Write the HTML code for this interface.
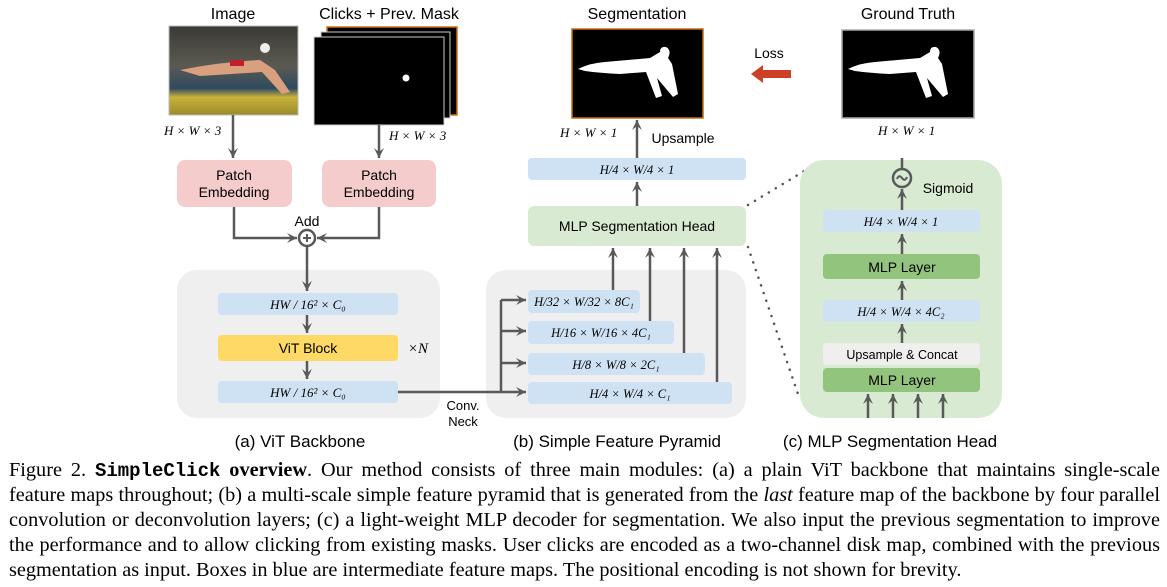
<!DOCTYPE html>
<html><head><meta charset="utf-8"><style>
body{margin:0;background:#fff;width:1167px;height:587px;overflow:hidden;position:relative}
svg{position:absolute;left:0;top:0}
.cap{position:absolute;left:9px;width:1151px;font-family:"Liberation Serif",serif;font-size:20.3px;line-height:20px;white-space:nowrap;text-align:justify;text-align-last:justify;color:#000}
.cap.last{text-align-last:left}
.mono{font-family:"Liberation Mono",monospace;font-weight:bold;font-size:19px}
</style></head><body>
<svg width="1167" height="460" viewBox="0 0 1167 460" font-family="Liberation Sans, sans-serif">
<defs>
<marker id="a" markerWidth="12" markerHeight="12" refX="10" refY="6" orient="auto" markerUnits="userSpaceOnUse">
<path d="M0,1 L10,6 L0,11 L4,6 Z" fill="#595959"/>
</marker>
<linearGradient id="sw" x1="0" y1="0" x2="0" y2="1">
<stop offset="0" stop-color="#3a3a34"/><stop offset="0.45" stop-color="#5b5a52"/><stop offset="0.7" stop-color="#2f4a60"/><stop offset="0.8" stop-color="#c9b23c"/><stop offset="1" stop-color="#9a8a2a"/>
</linearGradient>
</defs>
<g font-size="16" text-anchor="middle" fill="#000">
<text x="233" y="19">Image</text>
<text x="389" y="19">Clicks + Prev. Mask</text>
<text x="637" y="19">Segmentation</text>
<text x="908" y="19">Ground Truth</text>
</g>
<rect x="169" y="26" width="129" height="89" fill="url(#sw)" stroke="#bbb"/>
<path d="M180,70 Q220,62 260,60 L275,70 L290,92 L282,94 L262,72 L200,76 Z" fill="#d9a07f"/>
<rect x="230" y="60" width="14" height="6" fill="#c0202a"/>
<circle cx="265" cy="48" r="5" fill="#eee"/>
<rect x="327" y="27" width="130" height="88" fill="#000" stroke="#d07010" stroke-width="1.5"/>
<rect x="321" y="32" width="129" height="86" fill="#000" stroke="#ccc" stroke-width="1"/>
<rect x="314" y="37" width="130" height="88" fill="#000" stroke="#ccc" stroke-width="1"/>
<circle cx="406" cy="78" r="3.5" fill="#fff"/>
<g font-family="Liberation Serif, serif" font-style="italic" font-size="13" fill="#000">
<text x="164" y="135">H × W × 3</text>
<text x="389" y="140">H × W × 3</text>
<text x="560" y="137">H × W × 1</text>
<text x="878" y="135">H × W × 1</text>
</g>
<rect x="572" y="29" width="131" height="89" fill="#000" stroke="#c86a10" stroke-width="1.5"/>
<path id="sil" d="M578,69 Q590,63 605,62 L650,58 L660,52 Q660,46 666,47 Q672,50 668,58 L672,64 L678,94 L673,97 L657,78 L662,96 L656,98 L646,72 L620,74 Q600,73 585,71 Z" fill="#fff"/>
<rect x="842" y="30" width="132" height="88" fill="#000" stroke="#aaa" stroke-width="1.5"/>
<use href="#sil" transform="translate(270,0)"/>
<text x="769" y="58" font-size="14" text-anchor="middle">Loss</text>
<path d="M791,70 L763,70 L763,65 L751,74 L763,83 L763,78 L791,78 Z" fill="#cc4125"/>
<rect x="177" y="160" width="115" height="47" rx="8" fill="#f4cccc"/>
<rect x="322" y="160" width="114" height="47" rx="8" fill="#f4cccc"/>
<g font-size="14" text-anchor="middle">
<text x="234" y="180">Patch</text><text x="234" y="197">Embedding</text>
<text x="379" y="180">Patch</text><text x="379" y="197">Embedding</text>
<text x="307" y="226">Add</text>
</g>
<g stroke="#595959" stroke-width="2.5" fill="none">
<line x1="233" y1="115" x2="233" y2="158" marker-end="url(#a)"/>
<line x1="379" y1="125" x2="379" y2="158" marker-end="url(#a)"/>
<polyline points="234,207 234,238 297,238" marker-end="url(#a)"/>
<polyline points="379,207 379,238 317,238" marker-end="url(#a)"/>
<circle cx="307" cy="238" r="8"/>
<line x1="303" y1="238" x2="311" y2="238" stroke-width="2"/><line x1="307" y1="234" x2="307" y2="242" stroke-width="2"/>
</g>
<rect x="177" y="270" width="263" height="148" rx="20" fill="#efefef"/>
<rect x="218" y="293" width="180" height="22" rx="4" fill="#cfe2f3"/>
<rect x="218" y="335" width="180" height="26" rx="4" fill="#ffd966"/>
<rect x="218" y="381" width="180" height="22" rx="4" fill="#cfe2f3"/>
<g stroke="#595959" stroke-width="2.5" fill="none">
<line x1="307" y1="246" x2="307" y2="291" marker-end="url(#a)"/>
<line x1="307" y1="315" x2="307" y2="333" marker-end="url(#a)"/>
<line x1="307" y1="361" x2="307" y2="379" marker-end="url(#a)"/>
</g>
<g font-family="Liberation Serif, serif" font-style="italic" font-size="13" text-anchor="middle">
<text x="308" y="309">HW / 16² × C₀</text>
<text x="308" y="397">HW / 16² × C₀</text>
<text x="418" y="353" font-size="15">×N</text>
</g>
<text x="308" y="353" font-size="14" text-anchor="middle">ViT Block</text>
<rect x="486" y="270" width="260" height="148" rx="20" fill="#efefef"/>
<rect x="528" y="290" width="112" height="23" rx="4" fill="#cfe2f3"/>
<rect x="528" y="321" width="146" height="23" rx="4" fill="#cfe2f3"/>
<rect x="528" y="353" width="177" height="22" rx="4" fill="#cfe2f3"/>
<rect x="528" y="382" width="204" height="22" rx="4" fill="#cfe2f3"/>
<rect x="528" y="158" width="218" height="22" rx="4" fill="#cfe2f3"/>
<g font-family="Liberation Serif, serif" font-style="italic" font-size="12.5" text-anchor="middle">
<text x="584" y="306">H/32 × W/32 × 8C₁</text>
<text x="601" y="337">H/16 × W/16 × 4C₁</text>
<text x="616" y="369">H/8 × W/8 × 2C₁</text>
<text x="630" y="398">H/4 × W/4 × C₁</text>
<text x="637" y="174">H/4 × W/4 × 1</text>
</g>
<g stroke="#595959" stroke-width="2.5" fill="none">
<line x1="398" y1="392" x2="526" y2="392" marker-end="url(#a)"/>
<line x1="501" y1="392" x2="501" y2="300"/>
<line x1="501" y1="300" x2="526" y2="300" marker-end="url(#a)"/>
<line x1="501" y1="331" x2="526" y2="331" marker-end="url(#a)"/>
<line x1="501" y1="363" x2="526" y2="363" marker-end="url(#a)"/>
<line x1="613" y1="290" x2="613" y2="248" marker-end="url(#a)"/>
<line x1="650" y1="321" x2="650" y2="248" marker-end="url(#a)"/>
<line x1="684" y1="353" x2="684" y2="248" marker-end="url(#a)"/>
<line x1="717" y1="382" x2="717" y2="248" marker-end="url(#a)"/>
<line x1="637" y1="206" x2="637" y2="182" marker-end="url(#a)"/>
<line x1="637" y1="158" x2="637" y2="120" marker-end="url(#a)"/>
</g>
<g font-size="13" text-anchor="middle"><text x="463" y="410">Conv.</text><text x="463" y="426">Neck</text></g>
<rect x="528" y="206" width="218" height="40" rx="6" fill="#d9ead3"/>
<text x="637" y="231" font-size="14" text-anchor="middle">MLP Segmentation Head</text>
<text x="683" y="143" font-size="14" text-anchor="middle">Upsample</text>
<line x1="748" y1="205" x2="806" y2="170" stroke="#555" stroke-width="2.5" stroke-dasharray="0.1 8" stroke-linecap="round"/>
<line x1="748" y1="247" x2="800" y2="400" stroke="#555" stroke-width="2.5" stroke-dasharray="0.1 8" stroke-linecap="round"/>
<rect x="800" y="160" width="202" height="258" rx="24" fill="#d9ead3"/>
<rect x="823" y="210" width="157" height="22" rx="4" fill="#cfe2f3"/>
<rect x="823" y="254" width="157" height="25" rx="4" fill="#93c47d"/>
<rect x="823" y="300" width="157" height="22" rx="4" fill="#cfe2f3"/>
<rect x="823" y="343" width="157" height="22" rx="4" fill="#efefef"/>
<rect x="823" y="368" width="157" height="24" rx="4" fill="#93c47d"/>
<g font-family="Liberation Serif, serif" font-style="italic" font-size="12.5" text-anchor="middle">
<text x="901" y="226">H/4 × W/4 × 1</text>
<text x="901" y="316">H/4 × W/4 × 4C₂</text>
</g>
<g font-size="14" text-anchor="middle">
<text x="902" y="272">MLP Layer</text>
<text x="902" y="385">MLP Layer</text>
<text x="902" y="359" font-size="12.5">Upsample &amp; Concat</text>
<text x="948" y="193">Sigmoid</text>
</g>
<g stroke="#595959" stroke-width="2.5" fill="none">
<line x1="902" y1="158" x2="902" y2="169"/>
<circle cx="902" cy="178" r="9"/>
<path d="M897,179 Q899,174 902,178 Q905,182 907,177" stroke-width="2"/>
<line x1="902" y1="210" x2="902" y2="189" marker-end="url(#a)"/>
<line x1="902" y1="254" x2="902" y2="234" marker-end="url(#a)"/>
<line x1="902" y1="300" x2="902" y2="281" marker-end="url(#a)"/>
<line x1="902" y1="343" x2="902" y2="324" marker-end="url(#a)"/>
<line x1="868" y1="418" x2="868" y2="394" marker-end="url(#a)"/>
<line x1="893" y1="418" x2="893" y2="394" marker-end="url(#a)"/>
<line x1="918" y1="418" x2="918" y2="394" marker-end="url(#a)"/>
<line x1="943" y1="418" x2="943" y2="394" marker-end="url(#a)"/>
</g>
<g font-size="17" text-anchor="middle">
<text x="300" y="447">(a) ViT Backbone</text>
<text x="617" y="447">(b) Simple Feature Pyramid</text>
<text x="890" y="447">(c) MLP Segmentation Head</text>
</g>
</svg>
<div class="cap" style="top:460px">Figure 2. <span class="mono">SimpleClick</span> <b>overview</b>. Our method consists of three main modules: (a) a plain ViT backbone that maintains single-scale</div>
<div class="cap" style="top:485px">feature maps throughout; (b) a multi-scale simple feature pyramid that is generated from the <i>last</i> feature map of the backbone by four parallel</div>
<div class="cap" style="top:510px">convolution or deconvolution layers; (c) a light-weight MLP decoder for segmentation. We also input the previous segmentation to improve</div>
<div class="cap" style="top:535px">the performance and to allow clicking from existing masks. User clicks are encoded as a two-channel disk map, combined with the previous</div>
<div class="cap last" style="top:560px">segmentation as input. Boxes in blue are intermediate feature maps. The positional encoding is not shown for brevity.</div>
</body></html>
